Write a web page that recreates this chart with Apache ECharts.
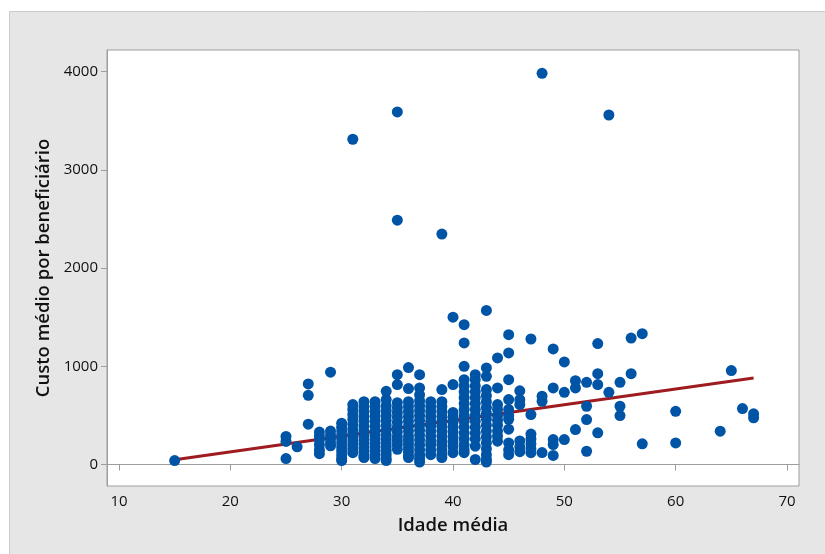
<!DOCTYPE html>
<html>
<head>
<meta charset="utf-8">
<script src="https://cdn.jsdelivr.net/npm/echarts@6/dist/echarts.min.js"></script>
<style>
  html, body { margin: 0; padding: 0; background: #ffffff; }
  #chart { width: 825px; height: 554px; }
</style>
</head>
<body>
<div id="chart"></div>
<script>
// Idade média (x) and the costs observed at each age (y)
const idades = [15, 25, 26, 27, 28, 29, 30, 31, 32, 33, 34, 35, 36, 37, 38, 39, 40, 41, 42, 43,
  44, 45, 46, 47, 48, 49, 50, 51, 52, 53, 54, 55, 56, 57, 60, 64, 65, 66, 67];
const custos = [
  [40],
  [285, 235, 60],
  [180],
  [820, 705, 410],
  [330, 290, 250, 200, 150, 110],
  [940, 340, 300, 260, 220, 190],
  [420, 380, 340, 300, 260, 220, 180, 140, 100, 60, 40],
  [3312, 610, 560, 510, 460, 410, 360, 320, 280, 240, 200, 160, 120],
  [640, 590, 540, 490, 440, 390, 340, 290, 250, 210, 170, 130, 90, 70],
  [640, 590, 540, 490, 440, 390, 340, 300, 260, 220, 180, 140, 100, 60],
  [745, 661, 600, 550, 500, 450, 400, 350, 300, 260, 220, 180, 140, 100, 60, 40],
  [3590, 2488, 915, 814, 630, 580, 530, 480, 430, 380, 330, 280, 240, 200, 155],
  [987, 773, 640, 590, 540, 490, 440, 390, 340, 290, 250, 210, 170, 130, 90, 70],
  [915, 780, 710, 650, 600, 550, 500, 450, 400, 350, 300, 250, 200, 150, 100, 60, 25],
  [640, 590, 540, 490, 440, 390, 340, 290, 240, 200, 150, 100],
  [2346, 763, 640, 590, 540, 490, 440, 390, 340, 290, 240, 200, 150, 100, 70],
  [1500, 814, 530, 480, 430, 380, 330, 280, 230, 180, 120],
  [1424, 1238, 1000, 864, 800, 740, 680, 620, 560, 500, 440, 380, 320, 260, 200, 150, 120],
  [915, 864, 800, 740, 680, 620, 560, 500, 440, 380, 320, 260, 186, 51],
  [1569, 983, 898, 763, 700, 640, 580, 520, 460, 400, 340, 280, 220, 160, 100, 51, 25],
  [1085, 780, 610, 560, 500, 450, 400, 340, 290, 237],
  [1322, 1136, 864, 661, 560, 500, 460, 360, 220, 150, 100],
  [750, 660, 610, 240, 180, 130],
  [1278, 508, 310, 260, 210, 160, 120],
  [3983, 695, 644, 122],
  [1177, 780, 254, 203, 92],
  [1044, 735, 254],
  [854, 780, 356],
  [837, 593, 458, 135],
  [1231, 925, 814, 322],
  [3559, 735],
  [837, 593, 498],
  [1288, 925],
  [1332, 210],
  [542, 220],
  [339],
  [956],
  [570],
  [516, 475]
];

// Fitted regression line: custo = intercepto + inclinacao * idade
const intercepto = -192;
const inclinacao = 16.0;
const ajusteIdades = [15, 67];

// Axis ticks
const ticksX = [10, 20, 30, 40, 50, 60, 70];
const ticksY = [0, 1000, 2000, 3000, 4000];

const pontos = [];
idades.forEach((idade, i) => {
  custos[i].forEach(c => pontos.push([idade, c]));
});
const linhaAjuste = ajusteIdades.map(x => [x, intercepto + inclinacao * x]);

const FONT = '"Open Sans", "Noto Sans", sans-serif';
const axisGray = '#9d9d9d';

const chart = echarts.init(document.getElementById('chart'), null, { renderer: 'canvas' });
chart.setOption({
  animation: false,
  backgroundColor: '#ffffff',
  graphic: [{
    type: 'rect',
    z: -10,
    silent: true,
    shape: { x: 9.5, y: 11.5, width: 830, height: 560 },
    style: { fill: '#e6e6e6', stroke: '#cbcbcb', lineWidth: 1 }
  }],
  grid: {
    left: 107, top: 50, width: 692, height: 436,
    show: true, backgroundColor: '#ffffff', borderColor: axisGray, borderWidth: 1
  },
  xAxis: {
    type: 'value',
    min: 8.922, max: 71.078,
    name: 'Idade média',
    nameLocation: 'middle',
    nameGap: 30,
    nameTextStyle: { fontFamily: FONT, fontSize: 18.5, fontWeight: 600, color: '#111' },
    axisLine: { show: true, lineStyle: { color: axisGray } },
    axisTick: { show: true, length: 6, lineStyle: { color: axisGray }, customValues: ticksX },
    axisLabel: { fontFamily: FONT, fontSize: 15, color: '#111', margin: 8, customValues: ticksX },
    splitLine: { show: false }
  },
  yAxis: {
    type: 'value',
    min: -219, max: 4221,
    name: 'Custo médio por beneficiário',
    nameLocation: 'middle',
    nameGap: 52,
    nameRotate: 90,
    nameTextStyle: { fontFamily: FONT, fontSize: 18.5, fontWeight: 600, color: '#111' },
    axisLine: { show: true, lineStyle: { color: axisGray } },
    axisTick: { show: true, length: 6, lineStyle: { color: axisGray }, customValues: ticksY },
    axisLabel: {
      fontFamily: FONT, fontSize: 15, color: '#111', margin: 9, customValues: ticksY,
      formatter: v => String(v)
    },
    splitLine: { show: false }
  },
  series: [
    {
      type: 'line',
      data: linhaAjuste,
      symbol: 'none',
      lineStyle: { color: '#9e1b1f', width: 3 },
      z: 1
    },
    {
      type: 'scatter',
      data: pontos,
      symbol: 'circle',
      symbolSize: 11,
      itemStyle: { color: '#0054a6', opacity: 1 },
      z: 2
    }
  ]
});
</script>
</body>
</html>
